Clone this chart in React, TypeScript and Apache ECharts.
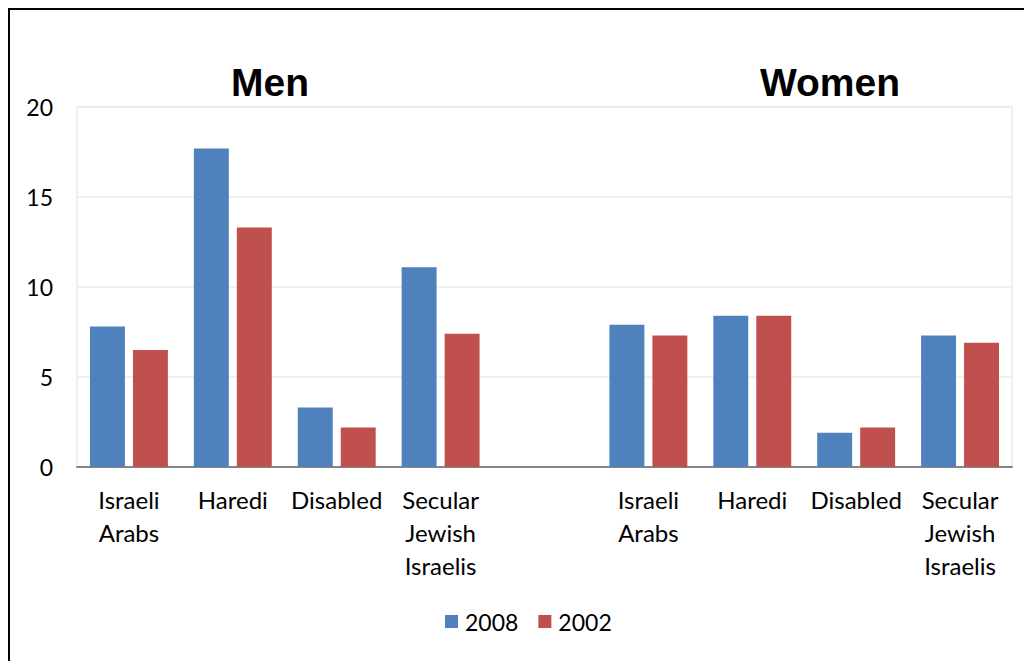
import React, { useEffect, useRef } from "react";
import * as echarts from "echarts";

const categories = [
  "Men|Israeli\nArabs",
  "Men|Haredi",
  "Men|Disabled",
  "Men|Secular\nJewish\nIsraelis",
  "gap|",
  "Women|Israeli\nArabs",
  "Women|Haredi",
  "Women|Disabled",
  "Women|Secular\nJewish\nIsraelis",
];
const values2008 = [7.8, 17.7, 3.3, 11.1, null, 7.9, 8.4, 1.9, 7.3];
const values2002 = [6.5, 13.3, 2.2, 7.4, null, 7.3, 8.4, 2.2, 6.9];
const seriesNames = ["2008", "2002"];
const groupTitles = ["Men", "Women"];
const yTicks = [0, 5, 10, 15, 20];

export default function App() {
  const ref = useRef<HTMLDivElement>(null);
  useEffect(() => {
    if (!ref.current) return;
    const chart = echarts.init(ref.current, null, { renderer: "svg" });
    const font = "Lato, 'Open Sans', sans-serif";
    const titleStyle = {
      fontFamily: "'Liberation Sans', Arial, sans-serif",
      fontWeight: 900,
      fontSize: 39,
      fill: "#000",
      textAlign: "center",
      textVerticalAlign: "middle",
    };
    chart.setOption({
      animation: false,
      textStyle: { fontFamily: font },
      color: ["#4F81BD", "#C0504D"],
      grid: {
        left: 67,
        top: 97,
        right: 20,
        bottom: 194,
        show: true,
        borderColor: "#EEECE1",
        borderWidth: 1.5,
      },
      graphic: [
        { type: "text", x: 260, y: 72, style: { ...titleStyle, text: groupTitles[0] } },
        { type: "text", x: 820, y: 72, style: { ...titleStyle, text: groupTitles[1] } },
      ],
      legend: {
        data: seriesNames,
        left: 430,
        top: 595,
        itemWidth: 13,
        itemHeight: 13,
        itemGap: 20,
        icon: "rect",
        textStyle: { fontSize: 23, color: "#000", fontFamily: font, padding: [0, 0, 0, 2] },
      },
      xAxis: {
        type: "category",
        data: categories,
        axisLine: { lineStyle: { color: "#868686", width: 2 } },
        axisTick: { show: false },
        axisLabel: {
          interval: 0,
          margin: 16,
          fontSize: 24,
          lineHeight: 33,
          color: "#000",
          fontFamily: font,
          formatter: (v: string) => v.split("|")[1],
        },
      },
      yAxis: {
        type: "value",
        min: 0,
        max: 20,
        interval: 5,
        axisLine: { show: false },
        axisTick: { show: false },
        splitLine: { lineStyle: { color: "#EEECE1", width: 1.5 } },
        axisLabel: {
          fontSize: 23,
          color: "#000",
          margin: 24,
          fontFamily: font,
          formatter: (v: number) => (yTicks.includes(v) ? String(v) : ""),
        },
      },
      series: [
        {
          name: seriesNames[0],
          type: "bar",
          data: values2008,
          barGap: "23%",
          barCategoryGap: "25%",
        },
        {
          name: seriesNames[1],
          type: "bar",
          data: values2002,
        },
      ],
    });
    return () => chart.dispose();
  }, []);
  return (
    <div
      style={{
        width: 1024,
        height: 653,
        borderLeft: "2px solid #000",
        borderTop: "2px solid #000",
        boxSizing: "border-box",
      }}
    >
      <div ref={ref} style={{ width: 1022, height: 651 }} />
    </div>
  );
}
